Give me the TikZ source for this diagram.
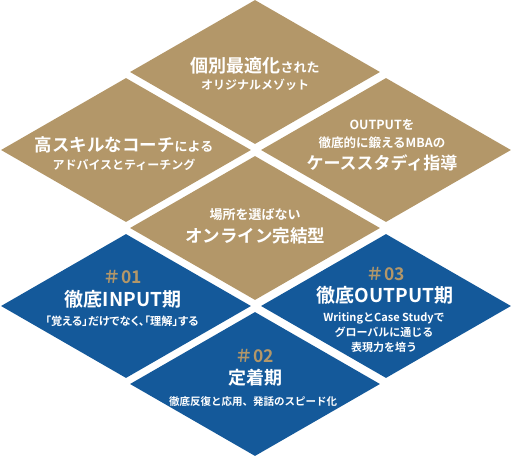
\documentclass[tikz,border=0pt]{standalone}
\usepackage{fontspec}
\setmainfont{Noto Sans CJK JP}[BoldFont={Noto Sans CJK JP Bold}]
\newfontfamily\jpp{Noto Sans CJK JP}[BoldFont={Noto Sans CJK JP Bold},RawFeature=+palt]
\usetikzlibrary{shapes.geometric}
\definecolor{gold}{HTML}{B39769}
\definecolor{navy}{HTML}{14599A}
\newcommand{\fs}[1]{\fontsize{#1}{#1}\selectfont}
\tikzset{
  rhomb/.style={diamond, draw=none, inner sep=0pt, minimum width=250pt, minimum height=144pt},
  goldrhomb/.style={rhomb, fill=gold},
  bluerhomb/.style={rhomb, fill=navy},
  txt/.style={anchor=base, inner sep=0pt, text=white, font=\bfseries},
  num/.style={anchor=base, inner sep=0pt, text=gold, font=\bfseries\fs{17.5}},
}
\begin{document}
\begin{tikzpicture}[x=1pt,y=-1pt]
\useasboundingbox (0,0) rectangle (512,458);
% diamonds
\node[goldrhomb] (t)  at (255,72)  {};
\node[goldrhomb] (gl) at (126,150) {};
\node[goldrhomb] (gr) at (386,150) {};
\node[goldrhomb] (m)  at (255,228) {};
\node[bluerhomb] (bl) at (126,306) {};
\node[bluerhomb] (br) at (386,306) {};
\node[bluerhomb] (b)  at (255,384) {};
% top
\node[txt] (t1) at (255,72) {\fs{18}個別最適化\fs{13}された};
\node[txt] (t2) at (255,89) {\fs{12}オリジナルメゾット};
% gold left
\node[txt] (gl1) at (124,151) {\fs{17.5}高スキルなコーチ\fs{13}による};
\node[txt] (gl2) at (124,169) {\fs{12}アドバイスとティーチング};
% gold right
\node[txt] (gr1) at (382,129) {\fs{12.5}OUTPUTを};
\node[txt] (gr2) at (382,147.5) {\fs{12.5}徹底的に鍛えるMBAの};
\node[txt] (gr3) at (382,169) {\fs{17}ケーススタディ指導};
% middle
\node[txt] (m1) at (255,219) {\fs{13}場所を選ばない};
\node[txt] (m2) at (255,242) {\fs{17.5}オンライン完結型};
% blue left
\node[num] (bl0) at (123,283) {＃01};
\node[txt] (bl1) at (123,306) {\fs{19}徹底INPUT期};
\node[txt] (bl2) at (122,325) {\jpp\fs{11.2}「覚える」だけでなく、「理解」する};
% blue right
\node[num] (br0) at (386,280) {＃03};
\node[txt] (br1) at (385,302) {\fs{19}徹底OUTPUT期};
\node[txt] (br2) at (384,321.5) {\fs{11}WritingとCase Studyで};
\node[txt] (br3) at (384,336.5) {\fs{11}グローバルに通じる};
\node[txt] (br4) at (384,351.5) {\fs{11}表現力を培う};
% blue bottom
\node[num] (b0) at (255,362) {＃02};
\node[txt] (b1) at (255,384) {\fs{18}定着期};
\node[txt] (b2) at (253,405) {\fs{10.5}徹底反復と応用、発話のスピード化};
\end{tikzpicture}
\end{document}
